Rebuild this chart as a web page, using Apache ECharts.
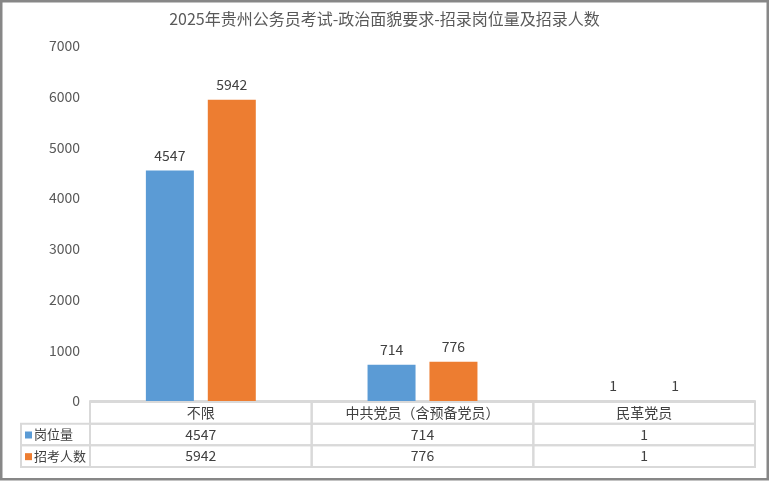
<!DOCTYPE html>
<html>
<head>
<meta charset="utf-8">
<script src="https://cdn.jsdelivr.net/npm/echarts@6/dist/echarts.min.js"></script>
<style>
html,body{margin:0;padding:0;background:#fff;}
#c{width:769px;height:483px;}
</style>
</head>
<body>
<div id="c"></div>
<script>
const titleText = '2025年贵州公务员考试-政治面貌要求-招录岗位量及招录人数';
const categories = ['不限', '中共党员（含预备党员）', '民革党员'];
const seriesNames = ['岗位量', '招考人数'];
const posts = [4547, 714, 1];
const applicants = [5942, 776, 1];
const yTicks = [0, 1000, 2000, 3000, 4000, 5000, 6000, 7000];

const colors = ['#5B9BD5', '#ED7D31'];
const FONT = '"Noto Sans CJK SC", "Microsoft YaHei", sans-serif';
const seriesValues = [posts, applicants];

// table data built from the arrays
const tableData = [];
categories.forEach((c, i) => {
  tableData.push([i, 0, c]);
  seriesValues.forEach((vals, s) => tableData.push([i, s + 1, String(vals[i]), s]));
});

const chart = echarts.init(document.getElementById('c'), null, {renderer: 'canvas'});

const option = {
  backgroundColor: '#ffffff',
  animation: false,
  title: {
    text: titleText,
    left: 'center',
    top: 6,
    textStyle: {fontFamily: FONT, fontSize: 16, fontWeight: 'normal', color: '#595959'}
  },
  grid: [
    {left: 90, right: 14, top: 46, height: 355},
    {left: 90, right: 14, top: 402, height: 65}
  ],
  xAxis: [
    {
      type: 'category', gridIndex: 0, data: categories,
      axisLine: {show: true, lineStyle: {color: '#d9d9d9', width: 2}},
      axisTick: {show: false}, axisLabel: {show: false}, splitLine: {show: false}
    },
    {
      type: 'category', gridIndex: 1, data: categories,
      axisLine: {show: false}, axisTick: {show: false}, axisLabel: {show: false}, splitLine: {show: false}
    }
  ],
  yAxis: [
    {
      type: 'value', gridIndex: 0,
      min: yTicks[0], max: yTicks[yTicks.length - 1], interval: yTicks[1] - yTicks[0],
      axisLine: {show: false}, axisTick: {show: false}, splitLine: {show: false},
      axisLabel: {fontFamily: FONT, fontSize: 14, color: '#595959', margin: 10,
        formatter: function (v) { return String(v); }}
    },
    {
      type: 'category', gridIndex: 1, data: ['header'].concat(seriesNames), inverse: true,
      axisLine: {show: false}, axisTick: {show: false}, axisLabel: {show: false}, splitLine: {show: false}
    }
  ],
  series: [
    {
      name: seriesNames[0], type: 'bar', xAxisIndex: 0, yAxisIndex: 0,
      data: posts, barWidth: 48, barGap: '29%',
      itemStyle: {color: colors[0]},
      label: {show: true, position: 'top', distance: 8, fontFamily: FONT, fontSize: 14, color: '#404040'}
    },
    {
      name: seriesNames[1], type: 'bar', xAxisIndex: 0, yAxisIndex: 0,
      data: applicants, barWidth: 48, barGap: '29%',
      itemStyle: {color: colors[1]},
      label: {show: true, position: 'top', distance: 8, fontFamily: FONT, fontSize: 14, color: '#404040'}
    },
    {
      type: 'custom', xAxisIndex: 1, yAxisIndex: 1,
      data: tableData,
      silent: true,
      renderItem: function (params, api) {
        const i = api.value(0), r = api.value(1);
        const c = api.coord([i, r]);
        const sz = api.size([1, 1]);
        const w = sz[0], h = sz[1];
        const item = tableData[params.dataIndex];
        const line = {stroke: '#d9d9d9', lineWidth: 2, fill: null};
        const children = [
          {type: 'rect', shape: {x: c[0] - w / 2, y: c[1] - h / 2, width: w, height: h}, style: line},
          {type: 'text', style: {text: item[2], x: c[0], y: c[1], align: 'center', verticalAlign: 'middle',
            font: '14px ' + FONT, fill: '#404040'}}
        ];
        if (i === 0 && r > 0) {
          const lw = 69;
          const x0 = c[0] - w / 2 - lw;
          children.push({type: 'rect', shape: {x: x0, y: c[1] - h / 2, width: lw, height: h}, style: line});
          children.push({type: 'rect', shape: {x: x0 + 4, y: c[1] - 3, width: 7, height: 7}, style: {fill: colors[item[3]]}});
          children.push({type: 'text', style: {text: seriesNames[item[3]], x: x0 + 13, y: c[1], align: 'left', verticalAlign: 'middle',
            font: '13px ' + FONT, fill: '#404040'}});
        }
        return {type: 'group', children: children};
      }
    }
  ],
  graphic: [
    {type: 'rect', silent: true, z: 100, shape: {x: 1.25, y: 1.25, width: 766.5, height: 478}, style: {fill: null, stroke: '#878787', lineWidth: 2.5}}
  ]
};
chart.setOption(option);
</script>
</body>
</html>
